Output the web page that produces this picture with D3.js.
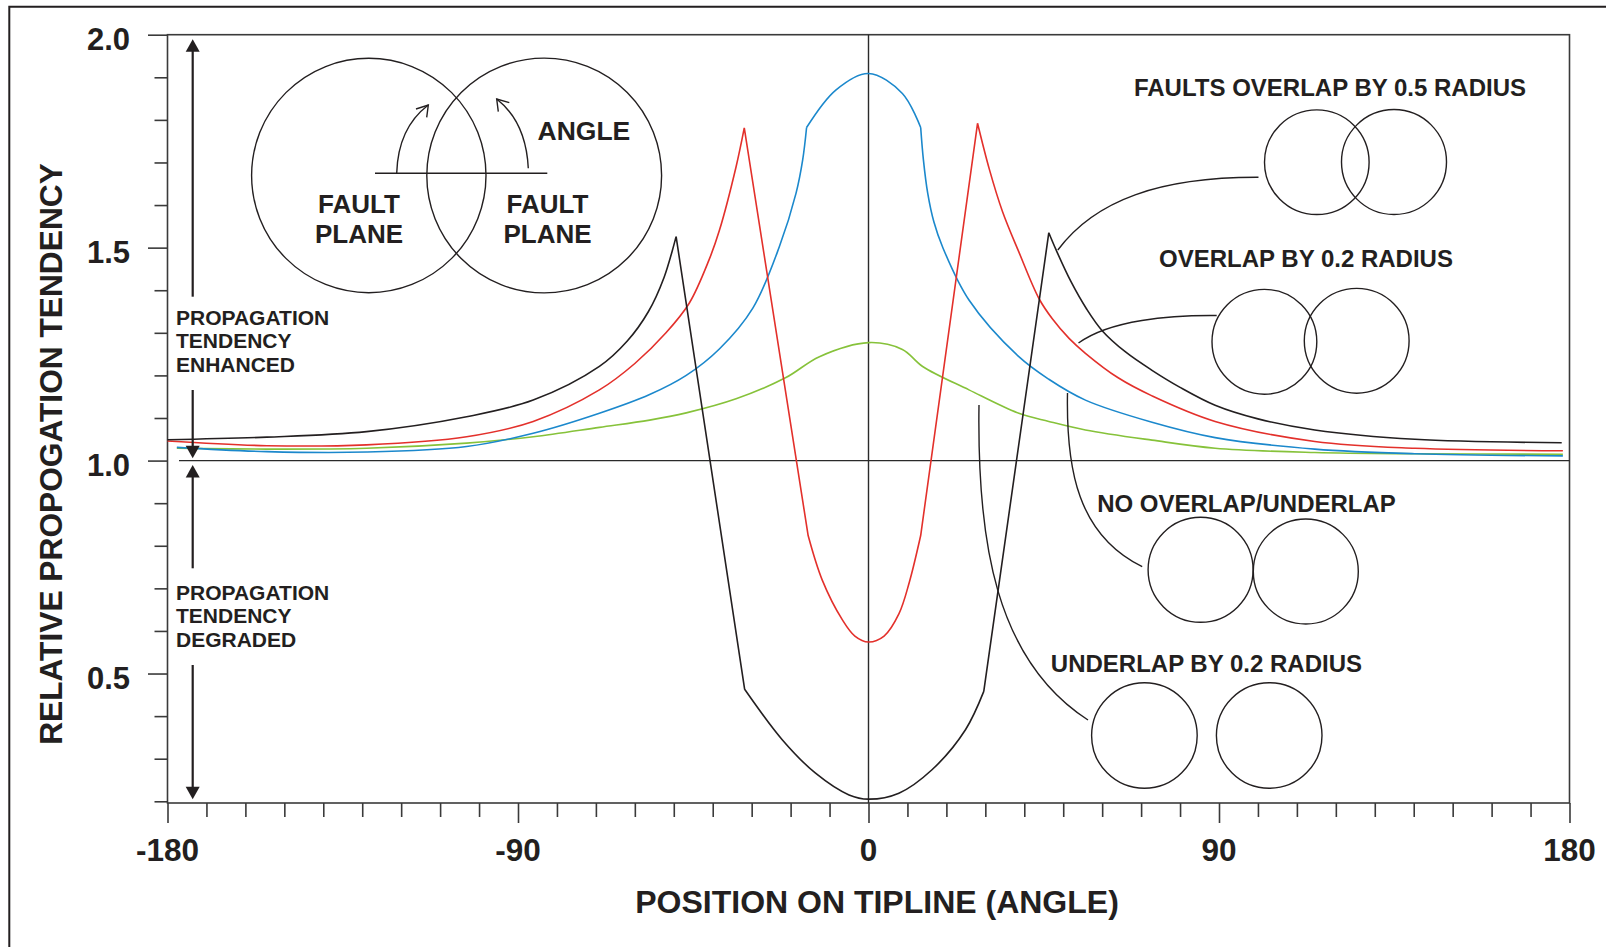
<!DOCTYPE html>
<html>
<head>
<meta charset="utf-8">
<script src="https://cdn.jsdelivr.net/npm/d3@7"></script>
<style>
  body { margin: 0; background: #fff; }
  text { font-family: "Liberation Sans", Arial, sans-serif; font-weight: bold; fill: #231f20; }
</style>
</head>
<body>
<svg id="chart"></svg>
<script>
// tick labels
const angleTicks = [-180, -90, 0, 90, 180];
const valueTicks = [0.5, 1.0, 1.5, 2.0];

// faults overlap by 0.5 radius (black)
const blackAngle = [-180, -154.5, -128.9, -103.2, -86.1, -69.1, -62, -56.5, -52.5, -49.4, -31.8, -22.1, -13.6, -5.0, 0, 7.8, 16.3, 24.9, 29.6, 46.3, 48.2, 52, 56, 60, 66, 72.8, 80, 89, 100, 114.6, 140.3, 178];
const blackValue = [1.049, 1.055, 1.068, 1.103, 1.142, 1.221, 1.28, 1.35, 1.43, 1.526, 0.463, 0.344, 0.266, 0.215, 0.205, 0.219, 0.274, 0.368, 0.458, 1.535, 1.494, 1.42, 1.356, 1.305, 1.255, 1.212, 1.172, 1.13, 1.098, 1.072, 1.050, 1.042];
const blackBreaks = [9, 10, 18, 19];

// overlap by 0.2 radius (red)
const redAngle = [-180, -154.5, -128.9, -103.2, -86.1, -69.1, -60, -52, -46, -41, -38.3, -34, -31.9, -15.5, -11.9, -6.7, -3.5, 0, 4, 7.8, 10.5, 13.4, 28, 31, 34.4, 38.6, 43.8, 47.2, 51.5, 55.7, 64, 72.8, 89, 114.6, 140.3, 178.3];
const redValue = [1.046, 1.035, 1.037, 1.056, 1.092, 1.166, 1.228, 1.30, 1.37, 1.47, 1.54, 1.69, 1.781, 0.824, 0.720, 0.626, 0.588, 0.574, 0.588, 0.640, 0.715, 0.824, 1.792, 1.685, 1.585, 1.49, 1.38, 1.333, 1.287, 1.252, 1.195, 1.152, 1.092, 1.045, 1.029, 1.023];
const redBreaks = [12, 13, 21, 22];

// no overlap / underlap (blue)
const blueAngle = [-177.6, -154.5, -128.9, -103.2, -86.1, -69.1, -56.2, -46.8, -38.3, -29.7, -22.9, -18.6, -16.9, -15.9, -8.4, 0, 8.7, 13.4, 14.1, 15.2, 16.8, 19, 25.8, 38.6, 46.3, 55.7, 72.8, 89, 114.6, 140.3, 178.3];
const blueValue = [1.031, 1.021, 1.020, 1.033, 1.064, 1.111, 1.155, 1.200, 1.262, 1.358, 1.502, 1.628, 1.706, 1.782, 1.870, 1.909, 1.862, 1.782, 1.706, 1.628, 1.56, 1.502, 1.377, 1.244, 1.191, 1.142, 1.090, 1.054, 1.027, 1.016, 1.011];
const blueBreaks = [13, 17];

// underlap by 0.2 radius (green)
const greenAngle = [-177.6, -154.5, -128.9, -103.2, -86.1, -69.1, -56.2, -46.8, -34, -21.2, -12.6, 0, 8.7, 13.9, 25.8, 38.6, 46.3, 55.7, 72.8, 89, 114.6, 140.3, 178.3];
const greenValue = [1.029, 1.027, 1.029, 1.041, 1.056, 1.078, 1.095, 1.112, 1.145, 1.195, 1.244, 1.277, 1.261, 1.221, 1.166, 1.111, 1.092, 1.072, 1.048, 1.029, 1.019, 1.016, 1.015];
const greenBreaks = [];

const width = 1606;
const height = 947;
const ink = '#231f20';

const svg = d3.select('#chart')
    .attr('width', width)
    .attr('height', height)
    .attr('viewBox', [0, 0, width, height]);

// outer figure border (cropped on right and bottom)
svg.append('path')
    .attr('d', `M9.3,${height} V6.7 H${width}`)
    .attr('fill', 'none')
    .attr('stroke', ink)
    .attr('stroke-width', 2);

const x = d3.scaleLinear().domain([-180, 180]).range([167.5, 1569.5]);
const y = d3.scaleLinear().domain([0.196, 2.0]).range([803, 34.7]);

// y axis ticks
const yMinor = d3.range(0.2, 2.0, 0.1).filter(v => Math.abs(v * 2 - Math.round(v * 2)) > 0.01);
const yMinorG = svg.append('g')
    .attr('transform', `translate(${x(-180)},0)`)
    .call(d3.axisLeft(y).tickValues(yMinor).tickSize(13).tickSizeOuter(0).tickFormat(''));
const yMajorG = svg.append('g')
    .attr('transform', `translate(${x(-180)},0)`)
    .call(d3.axisLeft(y).tickValues(valueTicks).tickSize(19.5).tickSizeOuter(0).tickFormat(''));

// x axis ticks
const xMinor = d3.range(-170, 180, 10).filter(v => v % 90 !== 0);
const xMinorG = svg.append('g')
    .attr('transform', `translate(0,${y.range()[0]})`)
    .call(d3.axisBottom(x).tickValues(xMinor).tickSize(14).tickSizeOuter(0).tickFormat(''));
const xMajorG = svg.append('g')
    .attr('transform', `translate(0,${y.range()[0]})`)
    .call(d3.axisBottom(x).tickValues(angleTicks).tickSize(20).tickSizeOuter(0).tickFormat(''));

[yMinorG, yMajorG, xMinorG, xMajorG].forEach(g => {
    g.select('.domain').remove();
    g.selectAll('line').attr('stroke', '#3a3a3a').attr('stroke-width', 1.6);
});

// tick labels
svg.append('g').selectAll('text')
    .data(valueTicks)
    .enter()
    .append('text')
    .attr('x', 130)
    .attr('y', d => y(d) + 15.5)
    .attr('text-anchor', 'end')
    .attr('font-size', 31)
    .text(d => d.toFixed(1));

svg.append('g').selectAll('text')
    .data(angleTicks)
    .enter()
    .append('text')
    .attr('x', d => x(d))
    .attr('y', 861)
    .attr('text-anchor', 'middle')
    .attr('font-size', 31.5)
    .text(d => d);

// axis titles
svg.append('text')
    .attr('x', 877)
    .attr('y', 913)
    .attr('text-anchor', 'middle')
    .attr('font-size', 32)
    .text('POSITION ON TIPLINE (ANGLE)');

svg.append('text')
    .attr('transform', 'translate(61.5,454) rotate(-90)')
    .attr('text-anchor', 'middle')
    .attr('font-size', 31.7)
    .text('RELATIVE PROPOGATION TENDENCY');

// plot frame
svg.append('rect')
    .attr('x', x(-180))
    .attr('y', y(2.0))
    .attr('width', x(180) - x(-180))
    .attr('height', y.range()[0] - y(2.0))
    .attr('fill', 'none')
    .attr('stroke', '#3a3a3a')
    .attr('stroke-width', 1.6);

// reference lines
svg.append('line')
    .attr('x1', 179).attr('x2', x(180))
    .attr('y1', y(1)).attr('y2', y(1))
    .attr('stroke', '#2a2a2a').attr('stroke-width', 1.4);
svg.append('line')
    .attr('x1', x(0)).attr('x2', x(0))
    .attr('y1', y(2.0)).attr('y2', y.range()[0])
    .attr('stroke', '#2a2a2a').attr('stroke-width', 1.4);

// curves, split at the sharp corners
function segments(xs, ys, breaks) {
    const pts = xs.map((a, i) => ({ angle: a, value: ys[i] }));
    const cuts = [0, ...breaks, pts.length - 1];
    const segs = [];
    for (let i = 0; i < cuts.length - 1; i++) {
        segs.push(pts.slice(cuts[i], cuts[i + 1] + 1));
    }
    return segs;
}

const line = d3.line()
    .x(d => x(d.angle))
    .y(d => y(d.value))
    .curve(d3.curveCatmullRom.alpha(0.5));

const series = [
    { color: '#86c23a', segs: segments(greenAngle, greenValue, greenBreaks) },
    { color: '#1b88cc', segs: segments(blueAngle, blueValue, blueBreaks) },
    { color: '#e3302b', segs: segments(redAngle, redValue, redBreaks) },
    { color: ink, segs: segments(blackAngle, blackValue, blackBreaks) }
];

series.forEach(s => {
    svg.append('path')
        .attr('d', s.segs.map(seg => line(seg)).join(''))
        .attr('fill', 'none')
        .attr('stroke', s.color)
        .attr('stroke-width', 1.6)
        .attr('stroke-linejoin', 'miter');
});

// enhanced / degraded arrows
const ax = 192.7;
const arrows = svg.append('g').attr('stroke', ink).attr('stroke-width', 2.2).attr('fill', ink);
function arrowHead(tipY, dir) {
    // dir = -1 points up, 1 points down
    const b = tipY - dir * 12.5;
    arrows.append('path').attr('stroke', 'none')
        .attr('d', `M${ax},${tipY} L${ax - 7},${b} L${ax + 7},${b} Z`);
}
function shaft(y1, y2) {
    arrows.append('line').attr('x1', ax).attr('x2', ax).attr('y1', y1).attr('y2', y2);
}
arrowHead(39.3, -1); shaft(50, 296.7);
shaft(390, 447); arrowHead(458.3, 1);
arrowHead(465, -1); shaft(476, 568.3);
shaft(665, 788); arrowHead(799.3, 1);

const sideText = [
    { y: 325, t: 'PROPAGATION' }, { y: 348.3, t: 'TENDENCY' }, { y: 372, t: 'ENHANCED' },
    { y: 600, t: 'PROPAGATION' }, { y: 623.3, t: 'TENDENCY' }, { y: 646.7, t: 'DEGRADED' }
];
svg.append('g').selectAll('text')
    .data(sideText)
    .enter()
    .append('text')
    .attr('x', 176)
    .attr('y', d => d.y)
    .attr('font-size', 21)
    .text(d => d.t);

// inset sketch: two fault planes and angle
const inset = svg.append('g').attr('fill', 'none').attr('stroke', ink).attr('stroke-width', 1.4);
inset.append('circle').attr('cx', 368.8).attr('cy', 175.5).attr('r', 117.2);
inset.append('circle').attr('cx', 544.2).attr('cy', 175.5).attr('r', 117.4);
inset.append('line').attr('x1', 375).attr('x2', 547.3).attr('y1', 173.3).attr('y2', 173.3);
inset.append('path').attr('d', 'M396.7,173.3 Q398,128 428.3,105');
inset.append('path').attr('d', 'M416,109 L428.3,105 L426.7,117.3');
inset.append('path').attr('d', 'M528.3,168.3 Q526,122 496.7,99');
inset.append('path').attr('d', 'M509.3,102.7 L496.7,99 L498.3,111.7');

const insetText = [
    { x: 359, y: 212.7, t: 'FAULT' }, { x: 359, y: 242.7, t: 'PLANE' },
    { x: 547.5, y: 212.7, t: 'FAULT' }, { x: 547.5, y: 242.7, t: 'PLANE' }
];
svg.append('g').selectAll('text')
    .data(insetText)
    .enter()
    .append('text')
    .attr('x', d => d.x)
    .attr('y', d => d.y)
    .attr('text-anchor', 'middle')
    .attr('font-size', 26)
    .text(d => d.t);
svg.append('text')
    .attr('x', 537.5).attr('y', 140)
    .attr('font-size', 26.5)
    .text('ANGLE');

// case labels, circle pairs and leaders
const cases = [
    { label: 'FAULTS OVERLAP BY 0.5 RADIUS', lx: 1330, ly: 96,
      c: [[1316.8, 162.2, 52.3], [1394, 162, 52.5]],
      leader: 'M1258.5,177.3 C1160,177 1095,200 1057.8,250' },
    { label: 'OVERLAP BY 0.2 RADIUS', lx: 1306, ly: 267,
      c: [[1264.4, 341.8, 52.4], [1356.7, 340.8, 52.4]],
      leader: 'M1216.7,315.5 C1170,315 1110,320 1078.5,343' },
    { label: 'NO OVERLAP/UNDERLAP', lx: 1246.5, ly: 512.3,
      c: [[1200.6, 569.8, 52.5], [1305.8, 571.5, 52.5]],
      leader: 'M1067.5,393 C1066,470 1078,535 1142.2,566.7' },
    { label: 'UNDERLAP BY 0.2 RADIUS', lx: 1206.4, ly: 672,
      c: [[1144.4, 735.5, 52.8], [1269.2, 735.5, 52.8]],
      leader: 'M979,405 C977,540 995,660 1088,720' }
];

cases.forEach(cs => {
    svg.append('text')
        .attr('x', cs.lx).attr('y', cs.ly)
        .attr('text-anchor', 'middle')
        .attr('font-size', 24)
        .text(cs.label);
    cs.c.forEach(c => {
        svg.append('circle')
            .attr('cx', c[0]).attr('cy', c[1]).attr('r', c[2])
            .attr('fill', 'none').attr('stroke', ink).attr('stroke-width', 1.4);
    });
    svg.append('path')
        .attr('d', cs.leader)
        .attr('fill', 'none').attr('stroke', ink).attr('stroke-width', 1.4);
});
</script>
</body>
</html>
